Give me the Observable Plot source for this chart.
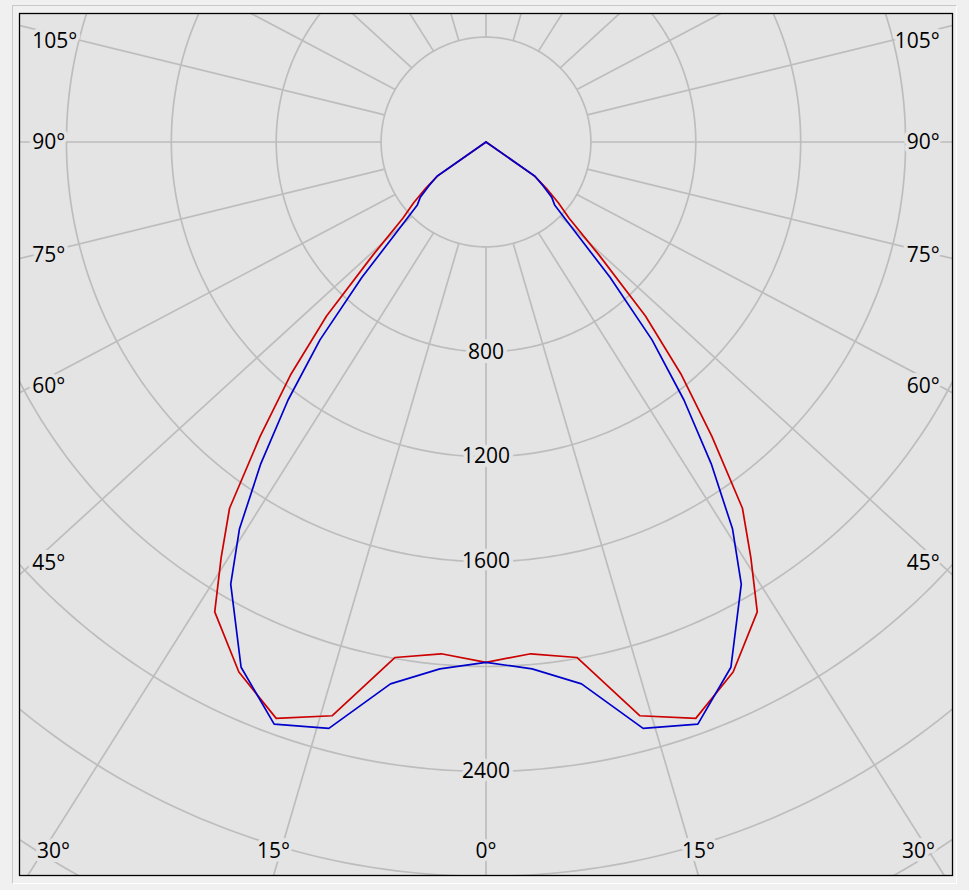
<!DOCTYPE html>
<html>
<head>
<meta charset="utf-8">
<script src="https://cdn.jsdelivr.net/npm/d3@7"></script>
<script src="https://cdn.jsdelivr.net/npm/@observablehq/plot@0.6"></script>
<style>
  html, body { margin: 0; padding: 0; background: #f0f0f0; overflow: hidden; }
  #wrap { position: relative; width: 969px; height: 890px; }
  #border { position: absolute; left: 12px; top: 5px; width: 943px; height: 877px;
            border-top: 1px solid #c8c8c8; border-left: 1px solid #c8c8c8;
            border-right: 1px solid #ffffff; border-bottom: 1px solid #ffffff; }
  #chart { position: absolute; left: 0; top: 0; }
</style>
</head>
<body>
<div id="wrap"><div id="border"></div><div id="chart"></div></div>
<script>
// ---- data (candela vs. angle from nadir, degrees) ----
const angles = [0, 5, 10, 15, 20, 25, 30, 32.5, 35, 37.5, 40, 42.5, 45, 47.5, 50, 52.5, 55, 60];
const redValues  = [1984, 1959, 1996, 2265, 2339, 2230, 2069, 1880, 1705, 1415, 1160, 900, 610, 430, 360, 290, 225, 0];
const blueValues = [1984, 2017, 2098, 2315, 2362, 2210, 1947, 1750, 1497, 1240, 985, 700, 470, 355, 327, 275, 228, 0];
const seriesNames = ["C0-C180", "C90-C270"];
const seriesColors = ["#cc0000", "#0000cc"];

const ringValues = [400, 800, 1200, 1600, 2000, 2400, 2800, 3200, 3600];
const ringLabels = [800, 1200, 1600, 2400];
const rayAngles = d3.range(0, 360, 15);
const angleLabels = [-105, -90, -75, -60, -45, -30, -15, 0, 15, 30, 45, 60, 75, 90, 105];

// ---- geometry helpers ----
const xMax = 1779, yTop = 490, yBottom = -2797;
const k = 933 / (2 * xMax);           // px per candela
const px = p => p / k;                 // pixels -> candela units
const rad = a => a * Math.PI / 180;
const squash = 0.92;                   // rays of the original drift slightly outward
const rayFar = 6000;

function polar(angle, value) {         // angle from nadir, negative = left
  return {x: value * Math.sin(rad(angle)), y: -value * Math.cos(rad(angle))};
}

// curve points: left half (C180 side) then right half
function curve(values, name) {
  const pts = [];
  for (let i = angles.length - 1; i >= 0; i--) pts.push({...polar(-angles[i], values[i]), s: name});
  for (let i = 1; i < angles.length; i++) pts.push({...polar(angles[i], values[i]), s: name});
  return pts;
}
const curves = [...curve(redValues, seriesNames[0]), ...curve(blueValues, seriesNames[1])];

// rings
const ringPts = ringValues.flatMap(r => d3.range(0, 361, 1).map(a => ({...polar(a, r), r})));

// rays
function rayEnds(a) {
  const s = polar(a, 400);
  const e = {x: rayFar * Math.sin(rad(a)), y: -rayFar * squash * Math.cos(rad(a))};
  return {x1: s.x, y1: s.y, x2: e.x, y2: e.y};
}
const rays = rayAngles.map(rayEnds);

// angle label positions (where each ray meets the frame, kept inside)
const labelPos = angleLabels.map(a => {
  const r = rayEnds(a);
  const text = Math.abs(a) + "°";
  if (Math.abs(a) >= 45) {
    const side = a < 0 ? -1 : 1;
    const xl = side * (xMax - px(12.7));
    const t = (xl - r.x1) / (r.x2 - r.x1);
    let yl = r.y1 + t * (r.y2 - r.y1);
    yl = Math.min(yl, yTop - px(28));
    return {x: xl, y: yl, text, anchor: side < 0 ? "start" : "end"};
  } else {
    const t = (yBottom - r.y1) / (r.y2 - r.y1);
    let xb = r.x1 + t * (r.x2 - r.x1);
    xb = Math.max(-(xMax - px(34)), Math.min(xMax - px(34), xb));
    return {x: xb, y: yBottom + px(24), text, anchor: "middle"};
  }
});

const bg = "#e4e4e4";
const grid = "#bdbdbd";
const font = "Open Sans, Liberation Sans, sans-serif";

const chart = Plot.plot({
  width: 969,
  height: 890,
  marginLeft: 19,
  marginRight: 17,
  marginTop: 13,
  marginBottom: 15,
  x: {domain: [-xMax, xMax], axis: null},
  y: {domain: [yBottom, yTop], axis: null},
  color: {domain: seriesNames, range: seriesColors},
  style: {background: "transparent", fontFamily: font},
  marks: [
    Plot.frame({fill: bg, stroke: null}),
    Plot.line(ringPts, {x: "x", y: "y", z: "r", stroke: grid, strokeWidth: 1.7, clip: true}),
    Plot.link(rays, {x1: "x1", y1: "y1", x2: "x2", y2: "y2", stroke: grid, strokeWidth: 1.7, clip: true}),
    Plot.line(curves, {x: "x", y: "y", z: "s", stroke: "s", strokeWidth: 1.7, clip: true}),
    Plot.text(ringLabels, {x: 0, y: d => -d, text: d => String(d), fontSize: 21, fontFamily: font,
      fill: "black", stroke: bg, strokeWidth: 8}),
    Plot.text(labelPos.filter(d => d.anchor === "start"), {x: "x", y: "y", text: "text", textAnchor: "start",
      fontSize: 21, fontFamily: font, fill: "black", stroke: bg, strokeWidth: 8}),
    Plot.text(labelPos.filter(d => d.anchor === "end"), {x: "x", y: "y", text: "text", textAnchor: "end",
      fontSize: 21, fontFamily: font, fill: "black", stroke: bg, strokeWidth: 8}),
    Plot.text(labelPos.filter(d => d.anchor === "middle"), {x: "x", y: "y", text: "text", textAnchor: "middle",
      fontSize: 21, fontFamily: font, fill: "black", stroke: bg, strokeWidth: 8}),
    Plot.frame({stroke: "#000", strokeWidth: 1.3})
  ]
});
document.getElementById("chart").appendChild(chart);
</script>
</body>
</html>
